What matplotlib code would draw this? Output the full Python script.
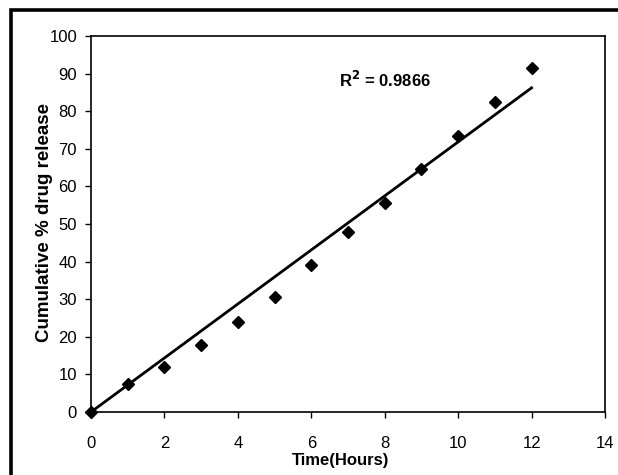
import numpy as np
import matplotlib
matplotlib.use("Agg")
import matplotlib.pyplot as plt
from matplotlib.patches import Rectangle
from matplotlib import font_manager

# data
time_h = [0, 1, 2, 3, 4, 5, 6, 7, 8, 9, 10, 11, 12]
release = [0, 7.5, 12, 17.8, 24, 30.5, 39.2, 48, 55.5, 64.5, 73.5, 82.5, 91.5]
r2_label = "R$^\\mathbf{2}$ = 0.9866"

names = [f.name for f in font_manager.fontManager.ttflist]
narrow = "Liberation Sans Narrow" if "Liberation Sans Narrow" in names else "Liberation Sans"

fig = plt.figure(figsize=(6.18, 4.75), dpi=100)
ax = fig.add_axes([91/618, 63/475, 514/618, 376/475])

# outer frame (only left and top visible, runs off the image)
fig.patches.append(Rectangle((11/618, -0.1), 1.2, 1 - 10/475 + 0.1, transform=fig.transFigure,
                             fill=False, lw=2.6, ec="black", clip_on=False))

x = np.array(time_h, dtype=float)
y = np.array(release, dtype=float)
# linear trendline through the origin
slope = np.sum(x * y) / np.sum(x * x)
ax.plot([0, 12], [0, slope * 12], color="black", lw=2, clip_on=False)
ax.plot(x, y, linestyle="none", marker="D", markersize=6.5, color="black", clip_on=False)

ax.set_xlim(0, 14)
ax.set_ylim(0, 100)
ax.set_xticks(range(0, 15, 2))
ax.set_yticks(range(0, 101, 10))
for lab in ax.get_xticklabels() + ax.get_yticklabels():
    lab.set_fontfamily(narrow)
    lab.set_fontsize(12)
ax.tick_params(axis="both", direction="out", length=4, width=1, color="black")
ax.tick_params(axis="x", pad=13)
ax.tick_params(axis="y", pad=6)
for s in ax.spines.values():
    s.set_linewidth(1.2)

ax.text(8.0, 88.3, r2_label, fontsize=12, fontweight="bold", family=narrow,
        ha="center", va="center")

fig.text(341/618, 1 - 460/475, "Time(Hours)", fontsize=12, fontweight="bold",
         family=narrow, ha="center", va="center")
fig.text(45/618, 1 - 222/475, "Cumulative % drug release", fontsize=13.5, fontweight="bold",
         family="Liberation Sans", rotation=90, ha="center", va="center")

fig.savefig("out.png", dpi=100)
